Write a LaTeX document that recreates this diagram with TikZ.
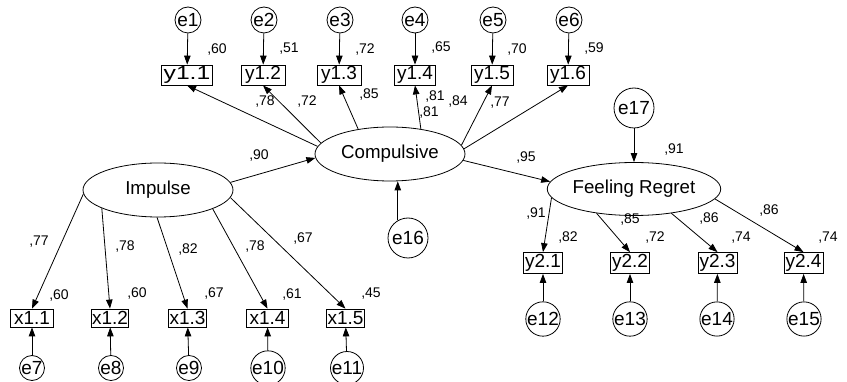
\documentclass[tikz,border=0pt]{standalone}
\usepackage{fontspec}
\setmainfont{Liberation Sans}
\usetikzlibrary{arrows.meta,shapes.geometric}

\begin{document}
\begin{tikzpicture}[x=1pt,y=-1pt,line width=0.8pt,>={Triangle[length=9pt,width=6.5pt]},
   obs/.style={draw,rectangle,inner sep=0pt,minimum width=39pt,minimum height=20pt,font=\fontsize{19}{19}\selectfont},
   lat/.style={draw,ellipse,inner sep=0pt,minimum width=150pt,minimum height=54pt,font=\fontsize{18.7}{19}\selectfont},
   err/.style={draw,circle,inner sep=0pt,minimum size=26pt,font=\fontsize{19}{19}\selectfont},
   bigerr/.style={err,minimum size=40pt},
   coef/.style={inner sep=0pt,font=\fontsize{14}{14}\selectfont}]
   \useasboundingbox (0,0) rectangle (847,382);
   % latent variables
   \node[lat] (imp)  at (158,190) {Impulse};
   \node[lat] (comp) at (390,154) {Compulsive};
   \node[lat,minimum height=53pt] (reg) at (634,189) {Feeling Regret};
   % indicators of Compulsive
   \node[obs,minimum width=51pt,font=\fontsize{19}{19}\selectfont\addfontfeature{FakeStretch=1.3}] (y11) at (187,75) {y1.1};
   \node[obs,minimum width=44pt] (y12) at (263,75) {y1.2};
   \node[obs,minimum width=44pt] (y13) at (339,75) {y1.3};
   \node[obs,minimum width=41pt] (y14) at (415,75) {y1.4};
   \node[obs,minimum width=42pt] (y15) at (492,75) {y1.5};
   \node[obs,minimum width=42pt] (y16) at (568,75) {y1.6};
   \node[err] (e1) at (188,20) {e1};
   \node[err] (e2) at (264,20) {e2};
   \node[err] (e3) at (340,20) {e3};
   \node[err] (e4) at (415,20) {e4};
   \node[err] (e5) at (493,20) {e5};
   \node[err] (e6) at (569,20) {e6};
   % indicators of Impulse
   \node[obs,minimum width=43pt,minimum height=18pt] (x11) at (32,318) {x1.1};
   \node[obs,minimum width=37pt,minimum height=18pt] (x12) at (110,318) {x1.2};
   \node[obs,minimum width=38pt,minimum height=18pt] (x13) at (187.5,318) {x1.3};
   \node[obs,minimum width=42pt,minimum height=18pt] (x14) at (267.5,318) {x1.4};
   \node[obs,minimum width=38pt,minimum height=18pt] (x15) at (345.5,318) {x1.5};
   \node[err,minimum size=25pt] (e7)  at (32,368)  {e7};
   \node[err,minimum size=25pt] (e8)  at (111,368) {e8};
   \node[err,minimum size=25pt] (e9)  at (189,368) {e9};
   \node[err,minimum size=25pt] (e10) at (268,368) {e10};
   \node[err,minimum size=25pt] (e11) at (347,368) {e11};
   % indicators of Feeling Regret
   \node[obs,minimum height=21pt] (y21) at (543,263)   {y2.1};
   \node[obs,minimum height=21pt] (y22) at (630,263)   {y2.2};
   \node[obs,minimum height=21pt] (y23) at (717.5,263) {y2.3};
   \node[obs,minimum height=21pt] (y24) at (803.5,263) {y2.4};
   \node[err,minimum size=27pt] (e12) at (543,319) {e12};
   \node[err,minimum size=27pt] (e13) at (630,319) {e13};
   \node[err,minimum size=27pt] (e14) at (717,319) {e14};
   \node[err,minimum size=27pt] (e15) at (804,319) {e15};
   % disturbances
   \node[bigerr] (e16) at (408,238) {e16};
   \node[bigerr] (e17) at (634,108) {e17};

   \path[->]
    (imp.6)     edge (comp.183)
    (comp.355)  edge (reg.175.5)
    (comp.174)  edge (y11.south)
    (comp.171)  edge (y12.south)
    (comp.142)  edge (y13.south)
    (comp.39)   edge (y14.south)
    (comp.7)    edge (y15.south)
    (comp.4)    edge (y16.south)
    (imp.183)   edge (x11.north)
    (imp.198)   edge (x12.north)
    (imp.268)   edge (x13.north)
    (imp.341.5) edge (x14.north)
    (imp.354)   edge (x15.north)
    (reg.186.5) edge (y21.north)
    (reg.213.5) edge (y22.north)
    (reg.327.5) edge (y23.north)
    (reg.353)   edge (y24.north)
    (e1) edge (y11) (e2) edge (y12) (e3) edge (y13)
    (e4) edge (y14) (e5) edge (y15) (e6) edge (y16)
    (e7) edge (x11) (e8) edge (x12) (e9) edge (x13)
    (e10) edge (x14) (e11) edge (x15)
    (e12) edge (y21) (e13) edge (y22) (e14) edge (y23) (e15) edge (y24)
    (e16.120) edge (e16.120 |- comp.south)
    (e17) edge (reg);

   % estimates
   \node[coef] (r1) at (217,50) {,60};
   \node[coef] (r2) at (289,49) {,51};
   \node[coef] (r3) at (365,50) {,72};
   \node[coef] (r4) at (441,48) {,65};
   \node[coef] (r5) at (517,50) {,70};
   \node[coef] (r6) at (594,49) {,59};
   \node[coef] (c1) at (265,102) {,78};
   \node[coef] (c2) at (307,102) {,72};
   \node[coef] (c3) at (369,95)  {,85};
   \node[coef] (c4) at (435,97)  {,81};
   \node[coef] (c5) at (429,113) {,81};
   \node[coef] (c6) at (458,102) {,84};
   \node[coef] (c7) at (500,103) {,77};
   \node[coef] (b1) at (259,156) {,90};
   \node[coef] (b2) at (526,158) {,95};
   \node[coef] (r17) at (674,150) {,91};
   \node[coef] (i1) at (39,242)  {,77};
   \node[coef] (i2) at (125,247) {,78};
   \node[coef] (i3) at (188,250) {,82};
   \node[coef] (i4) at (255,247) {,78};
   \node[coef] (i5) at (303,239) {,67};
   \node[coef] (s1) at (59,296)  {,60};
   \node[coef] (s2) at (137,294) {,60};
   \node[coef] (s3) at (214,294) {,67};
   \node[coef] (s4) at (292,295) {,61};
   \node[coef] (s5) at (371,294) {,45};
   \node[coef] (f1) at (536,214) {,91};
   \node[coef] (f2) at (630,220) {,85};
   \node[coef] (f3) at (709,219) {,86};
   \node[coef] (f4) at (769,211) {,86};
   \node[coef] (t1) at (568,238) {,82};
   \node[coef] (t2) at (655,238) {,72};
   \node[coef] (t3) at (741,238) {,74};
   \node[coef] (t4) at (828,238) {,74};
\end{tikzpicture}
\end{document}
